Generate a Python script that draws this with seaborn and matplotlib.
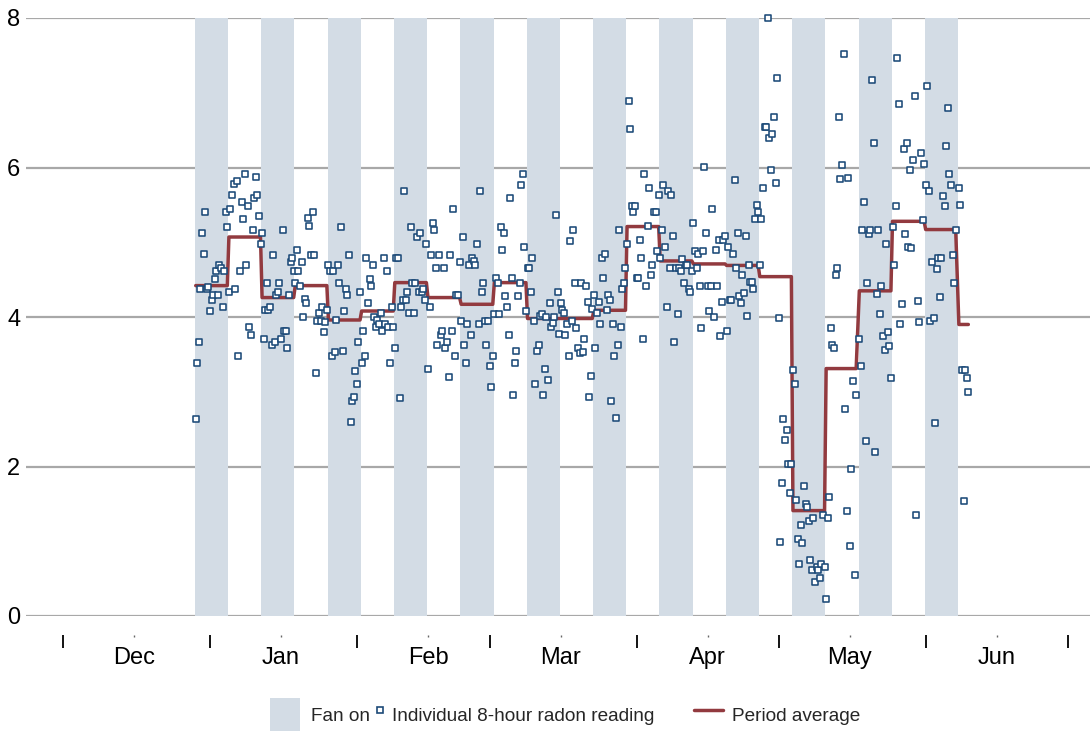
import matplotlib
matplotlib.use("Agg")
import matplotlib.pyplot as plt
import matplotlib.dates as mdates
from matplotlib.patches import Patch
from matplotlib.lines import Line2D
import pandas as pd
import seaborn as sns

sns.set_theme(style="white")
plt.rcParams["font.family"] = ["Liberation Sans", "DejaVu Sans"]

# Alternating one-week periods: fan on (even index) / fan off (odd index)
first_period_start = pd.Timestamp("2018-12-28 20:00")
period_length_days = 7
reading_step_hours = 8

# Average radon level for each period
period_avg = [4.42, 5.07, 4.26, 4.42, 3.96, 4.08, 4.46, 4.26, 4.17, 4.46, 3.98, 3.98,
              4.09, 5.21, 4.75, 4.71, 4.69, 4.54, 1.41, 3.31, 4.35, 5.28, 5.17, 3.90]

# Individual 8-hour readings, in time order, one list per period
period_readings = [
    [2.64, 3.39, 3.67, 4.37, 5.12, 4.84, 5.41, 4.37, 4.40, 4.08, 4.23, 4.29, 4.51, 4.61, 4.29, 4.70, 4.65, 4.14, 4.61, 5.40, 5.21],
    [4.33, 5.45, 5.63, 5.78, 4.37, 5.82, 3.48, 4.61, 5.54, 5.31, 5.91, 4.70, 5.49, 3.86, 3.76, 5.17, 5.59, 5.87, 5.63, 5.35, 4.98],
    [5.12, 3.71, 4.09, 4.46, 4.09, 4.14, 3.63, 4.83, 3.67, 4.29, 4.33, 4.46, 3.71, 5.17, 3.81, 3.81, 3.58, 4.29, 4.74, 4.79, 4.61],
    [4.46, 4.89, 4.61, 4.42, 4.74, 4.00, 4.24, 4.19, 5.32, 5.22, 4.83, 5.41, 4.83, 3.25, 3.95, 4.05, 3.95, 4.14, 3.80, 3.93, 4.09],
    [4.70, 4.61, 3.48, 4.61, 3.53, 3.96, 4.70, 4.46, 5.21, 3.54, 4.08, 4.37, 4.29, 4.83, 2.59, 2.88, 2.93, 3.28, 3.11, 3.67, 4.33],
    [3.39, 3.81, 3.48, 4.79, 4.19, 4.51, 4.42, 4.70, 4.00, 3.86, 3.96, 3.91, 4.05, 3.81, 4.79, 3.91, 4.61, 3.86, 3.39, 4.14, 3.86],
    [3.58, 4.79, 4.79, 2.92, 4.14, 4.23, 5.68, 4.23, 4.33, 4.05, 5.21, 4.46, 4.05, 4.46, 5.07, 4.33, 5.12, 4.33, 4.37, 4.23, 4.98],
    [3.30, 4.14, 4.83, 5.26, 5.17, 4.65, 3.62, 4.83, 3.76, 3.81, 4.65, 3.58, 3.67, 3.20, 4.83, 3.81, 5.45, 3.48, 4.29, 4.29, 4.74],
    [3.95, 5.07, 3.63, 3.39, 3.90, 4.70, 3.76, 4.79, 4.75, 4.70, 4.97, 3.90, 5.68, 4.33, 4.46, 3.94, 3.63, 3.94, 3.34, 3.06, 3.48],
    [4.04, 4.52, 4.46, 4.04, 5.21, 4.89, 5.12, 4.28, 4.14, 3.76, 5.59, 4.52, 2.96, 3.39, 3.54, 4.28, 4.46, 5.77, 5.91, 4.93, 4.08],
    [4.65, 4.65, 4.33, 4.79, 3.95, 3.10, 3.54, 3.63, 4.02, 4.04, 2.96, 3.30, 4.00, 3.16, 4.19, 3.86, 3.92, 4.00, 5.36, 4.33, 3.77],
    [4.19, 4.09, 4.05, 3.76, 3.90, 3.48, 5.02, 3.95, 5.17, 4.46, 3.85, 3.58, 3.52, 4.46, 3.53, 3.71, 4.42, 4.20, 2.93, 3.21, 4.11],
    [4.29, 3.58, 4.05, 4.20, 3.91, 4.79, 4.52, 4.84, 4.09, 4.29, 4.23, 2.88, 3.91, 3.48, 2.65, 3.63, 5.17, 3.86, 4.37, 4.46, 4.65],
    [4.98, 6.89, 6.52, 5.48, 5.41, 5.49, 4.52, 4.52, 5.03, 4.79, 3.71, 5.91, 4.41, 5.22, 5.73, 4.56, 4.70, 5.41, 5.41, 4.88, 5.63],
    [4.79, 5.17, 5.77, 4.94, 4.14, 5.69, 4.65, 5.63, 5.08, 3.67, 4.65, 4.04, 4.65, 4.61, 4.78, 4.46, 4.70, 4.70, 4.37, 4.33, 4.61],
    [5.26, 4.88, 4.65, 4.84, 4.41, 3.85, 4.88, 6.01, 5.12, 4.41, 4.08, 4.42, 5.44, 4.00, 4.89, 4.42, 5.03, 3.75, 4.20, 5.03, 5.09],
    [3.81, 4.94, 4.23, 4.23, 4.84, 5.83, 4.65, 5.12, 4.28, 4.19, 4.56, 4.32, 5.08, 4.01, 4.70, 4.47, 4.47, 4.38, 5.31, 5.50, 5.40],
    [4.70, 5.31, 5.73, 6.54, 6.54, 8.00, 6.40, 5.97, 6.45, 6.68, 5.79, 7.20, 3.99, 0.99, 1.78, 2.63, 2.35, 2.49, 2.03, 1.64, 2.03],
    [3.29, 3.10, 1.55, 1.03, 0.70, 1.22, 0.98, 1.74, 1.50, 1.46, 1.27, 0.75, 0.61, 1.31, 0.46, 0.66, 0.61, 0.51, 0.70, 1.35, 0.66],
    [0.23, 1.31, 1.59, 3.85, 3.62, 3.58, 4.56, 4.65, 6.68, 5.84, 6.03, 7.52, 2.77, 1.41, 5.86, 0.93, 1.97, 3.14, 0.55, 2.95],
    [3.71, 3.34, 5.16, 5.54, 2.34, 4.45, 5.11, 5.16, 7.17, 6.33, 2.20, 4.31, 5.16, 4.04, 4.41, 3.74, 3.56, 4.97, 3.80, 3.61, 3.19],
    [5.21, 4.69, 5.49, 7.46, 6.85, 3.90, 4.18, 6.25, 5.11, 6.33, 4.93, 5.96, 4.92, 6.10, 6.95, 1.35, 4.22, 3.93, 6.19, 5.30, 6.05],
    [5.77, 7.09, 5.68, 3.94, 4.74, 3.99, 2.58, 4.64, 4.79, 4.27, 4.79, 5.62, 5.48, 6.29, 6.80, 5.91, 5.77, 4.83, 4.45, 5.16],
    [5.72, 5.50, 3.29, 1.54, 3.29, 3.19, 2.99],
]

y_ticks = [0, 2, 4, 6, 8]
legend_labels = ["Fan on", "Individual 8-hour radon reading", "Period average"]

BAND = "#d3dce5"
POINT = "#1c4a78"
LINE = "#923a3f"
GRID = "#a8a8a8"

# Long-format table: one row per reading
rows = []
period_starts = []
for k, values in enumerate(period_readings):
    start = first_period_start + pd.Timedelta(days=period_length_days * k)
    period_starts.append(start)
    for i, v in enumerate(values):
        t = start + pd.Timedelta(hours=reading_step_hours / 2 + reading_step_hours * i)
        rows.append((t, v, period_avg[k]))
df = pd.DataFrame(rows, columns=["time", "radon", "avg"])

fig = plt.figure(figsize=(10.9, 7.31), dpi=100)
ax = fig.add_axes([26 / 1090, 115 / 731, 1064 / 1090, 598 / 731])

# Shaded weeks when the fan was running
for k in range(0, len(period_readings), 2):
    ax.axvspan(period_starts[k], period_starts[k] + pd.Timedelta(days=period_length_days),
               color=BAND, lw=0, zorder=1)

sns.lineplot(data=df, x="time", y="avg", color=LINE, lw=2.5, estimator=None,
             ax=ax, zorder=3)
sns.scatterplot(data=df, x="time", y="radon", marker="s", s=13, color=POINT,
                facecolor="white", edgecolor=POINT, linewidth=1.15, ax=ax,
                zorder=4, clip_on=False)

# Axis ranges
x_origin = pd.Timestamp("2018-12-01")
px_per_day = 4.74
ax.set_xlim(x_origin - pd.Timedelta(days=37 / px_per_day),
            x_origin + pd.Timedelta(days=1027 / px_per_day))
ax.set_ylim(0, 8)

ax.set_yticks(y_ticks)
ax.set_yticklabels([str(v) for v in y_ticks])
ax.yaxis.grid(True, color=GRID, lw=1.6)
ax.xaxis.grid(False)
ax.set_axisbelow(True)

# Month labels mid-month, boundary ticks at month starts
ax.xaxis.set_major_locator(mdates.MonthLocator(bymonthday=16))
ax.xaxis.set_major_formatter(mdates.DateFormatter("%b"))
ax.xaxis.set_minor_locator(mdates.MonthLocator())
ax.spines["bottom"].set_position(("outward", 13.7))
for side in ["top", "right", "left", "bottom"]:
    ax.spines[side].set_visible(False)
ax.tick_params(axis="x", which="major", bottom=True, length=1.5, width=1.0,
               color="#666666", pad=7.2, labelsize=17, labelcolor="black")
ax.tick_params(axis="x", which="minor", bottom=True, length=9, width=1.3,
               color="black")
ax.tick_params(axis="y", which="both", left=False, length=0, pad=4,
               labelsize=17, labelcolor="black")
ax.set_xlabel("")
ax.set_ylabel("")

# Legend entries laid out individually along the bottom
legend_y = 715 / 731
legend_specs = [
    (Patch(facecolor=BAND, edgecolor="none"), legend_labels[0], 270, 1.6, 0.58),
    (Line2D([], [], marker="s", ls="", mfc="white", mec=POINT, ms=4.2, mew=1.2),
     legend_labels[1], 374, 0.64, 0.32),
    (Line2D([], [], color=LINE, lw=2.5), legend_labels[2], 694, 1.5, 0.48),
]
for handle, label, x_px, hlen, hpad in legend_specs:
    fig.legend([handle], [label], loc="center left",
               bbox_to_anchor=(x_px / 1090, 1 - legend_y), bbox_transform=fig.transFigure,
               frameon=False, fontsize=13.7, handlelength=hlen, handleheight=2.3,
               handletextpad=hpad, borderpad=0, borderaxespad=0)

fig.savefig("out.png", dpi=100)
